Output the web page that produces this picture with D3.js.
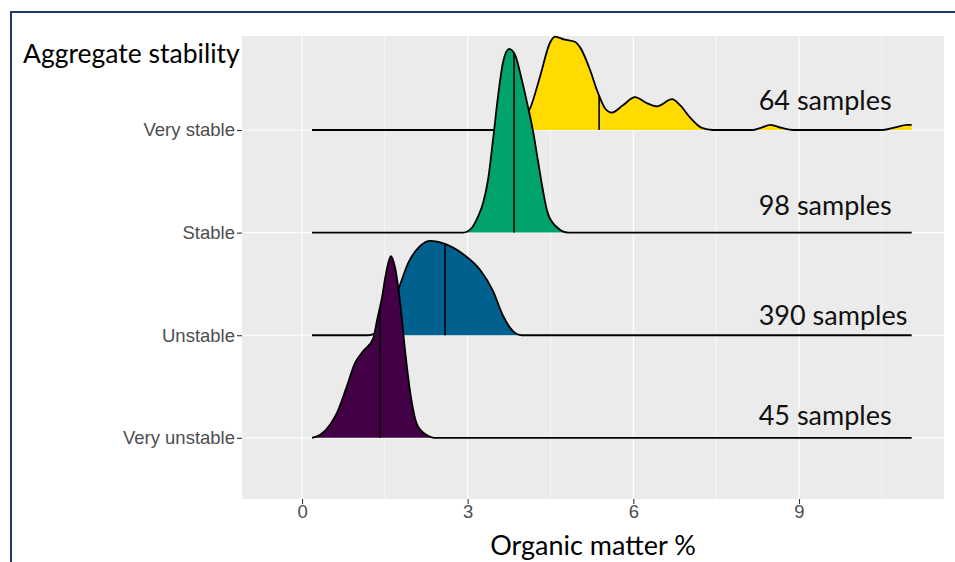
<!DOCTYPE html>
<html>
<head>
<meta charset="utf-8">
<script src="https://cdn.jsdelivr.net/npm/d3@7"></script>
<style>
    html, body { margin: 0; padding: 0; background: #fff; }
    svg { display: block; }
</style>
</head>
<body>
<svg></svg>
<script>
'use strict';

const WIDTH = 955;
const HEIGHT = 562;

// categories bottom -> top, same order as the colours / counts / medians
const CATEGORIES = ["Very unstable", "Unstable", "Stable", "Very stable"];
const COLOURS = ["#440046", "#00608E", "#00A36C", "#FFDB00"];
const SAMPLE_COUNTS = [45, 390, 98, 64];
const MEDIANS = [1.41, 2.59, 3.84, 5.38];
const LABEL_OFFSETS = [0.125, 0.10, 0.17, 0.195];
const LABEL_X = 8.27;
const X_TICKS = [0, 3, 6, 9];
const X_MINOR = [-1.5, 1.5, 4.5, 7.5, 10.5];

// density outlines: [organic matter %, height in row units]
const veryUnstableDensity = [
    [0.18, 0], [0.33, 0.03], [0.51, 0.13], [0.63, 0.24], [0.81, 0.50], [0.96, 0.73],
    [1.10, 0.84], [1.29, 0.97], [1.36, 1.15], [1.45, 1.37], [1.51, 1.57], [1.61, 1.77],
    [1.68, 1.67], [1.77, 1.35], [1.87, 0.83], [1.96, 0.44], [2.10, 0.11], [2.32, 0.01],
    [2.40, 0], [11.04, 0]
];
const unstableDensity = [
    [0.18, 0], [1.20, 0], [1.40, 0.06], [1.58, 0.22], [1.76, 0.47], [1.92, 0.70],
    [2.14, 0.87], [2.32, 0.92], [2.59, 0.89], [2.92, 0.79], [3.22, 0.64], [3.46, 0.43],
    [3.64, 0.19], [3.82, 0.04], [3.98, 0], [11.04, 0]
];
const stableDensity = [
    [0.18, 0], [2.92, 0], [3.08, 0.05], [3.19, 0.16], [3.28, 0.29], [3.37, 0.52],
    [3.46, 0.91], [3.55, 1.33], [3.64, 1.66], [3.75, 1.79], [3.86, 1.73], [3.98, 1.49],
    [4.09, 1.23], [4.18, 1.00], [4.27, 0.71], [4.36, 0.42], [4.45, 0.19], [4.62, 0.05],
    [4.82, 0], [11.04, 0]
];
const veryStableDensity = [
    [0.18, 0], [3.70, 0], [3.95, 0.08], [4.13, 0.21], [4.31, 0.52], [4.49, 0.85],
    [4.58, 0.91], [4.76, 0.88], [4.94, 0.86], [5.03, 0.81], [5.22, 0.58], [5.34, 0.39],
    [5.49, 0.21], [5.61, 0.17], [5.81, 0.24], [6.03, 0.32], [6.25, 0.26], [6.43, 0.23],
    [6.70, 0.30], [6.85, 0.24], [7.03, 0.12], [7.24, 0.02], [7.44, 0], [8.17, 0],
    [8.33, 0.025], [8.48, 0.05], [8.69, 0.02], [8.89, 0], [10.52, 0], [10.74, 0.025],
    [10.96, 0.05], [11.04, 0.05]
];
const DENSITIES = [veryUnstableDensity, unstableDensity, stableDensity, veryStableDensity];

var panel = {left: 242, right: 944, top: 36, bottom: 499};

var svg = d3.select("svg")
    .attr("width", WIDTH)
    .attr("height", HEIGHT);

var x = d3.scaleLinear()
    .domain([-1.087, 11.626])
    .range([panel.left, panel.right]);

// y in "row units": category i sits at i + 1
var y = d3.scaleLinear()
    .domain([0.404, 4.916])
    .range([panel.bottom, panel.top]);

// outer frame: only the top and left edges are inside the window
svg.append("line")
    .attr("x1", 10).attr("x2", WIDTH)
    .attr("y1", 12).attr("y2", 12)
    .attr("stroke", "#1F3864").attr("stroke-width", 2);
svg.append("line")
    .attr("x1", 11).attr("x2", 11)
    .attr("y1", 11).attr("y2", HEIGHT)
    .attr("stroke", "#1F3864").attr("stroke-width", 2);

svg.append("rect")
    .attr("x", panel.left)
    .attr("y", panel.top)
    .attr("width", panel.right - panel.left)
    .attr("height", panel.bottom - panel.top)
    .attr("fill", "#EBEBEB");

var grid = svg.append("g").attr("stroke", "#fff");

grid.selectAll(".minor")
    .data(X_MINOR.filter(function (d) { return x(d) > panel.left; }))
    .enter()
    .append("line")
    .attr("x1", function (d) { return x(d); })
    .attr("x2", function (d) { return x(d); })
    .attr("y1", panel.top)
    .attr("y2", panel.bottom)
    .attr("stroke-width", 0.6);

grid.selectAll(".major")
    .data(X_TICKS)
    .enter()
    .append("line")
    .attr("x1", function (d) { return x(d); })
    .attr("x2", function (d) { return x(d); })
    .attr("y1", panel.top)
    .attr("y2", panel.bottom)
    .attr("stroke-width", 1.2);

grid.selectAll(".row")
    .data(CATEGORIES)
    .enter()
    .append("line")
    .attr("x1", panel.left)
    .attr("x2", panel.right)
    .attr("y1", function (d, i) { return y(i + 1); })
    .attr("y2", function (d, i) { return y(i + 1); })
    .attr("stroke-width", 1.2);

var area = d3.area()
    .curve(d3.curveMonotoneX);
var line = d3.line()
    .curve(d3.curveMonotoneX);

// top row first so lower ridges overlap it
d3.range(CATEGORIES.length).reverse().forEach(function (i) {
    var base = i + 1;
    var pts = DENSITIES[i];
    var g = svg.append("g").attr("class", "ridge");

    g.append("path")
        .datum(pts)
        .attr("d", area
            .x(function (d) { return x(d[0]); })
            .y0(y(base))
            .y1(function (d) { return y(base + d[1]); }))
        .attr("fill", COLOURS[i]);

    var outline = g.append("path")
        .datum(pts)
        .attr("d", line
            .x(function (d) { return x(d[0]); })
            .y(function (d) { return y(base + d[1]); }))
        .attr("fill", "none")
        .attr("stroke", "#000")
        .attr("stroke-width", 1.8);

    // find the outline height at the median
    var node = outline.node();
    var total = node.getTotalLength();
    var mx = x(MEDIANS[i]);
    var best = null;
    for (var l = 0; l <= total; l += 0.5) {
        var p = node.getPointAtLength(l);
        if (!best || Math.abs(p.x - mx) < Math.abs(best.x - mx)) {
            best = p;
        }
    }
    g.append("line")
        .attr("x1", mx)
        .attr("x2", mx)
        .attr("y1", y(base))
        .attr("y2", best.y)
        .attr("stroke", "#000")
        .attr("stroke-width", 1.6);
});

svg.selectAll(".samples")
    .data(SAMPLE_COUNTS)
    .enter()
    .append("text")
    .attr("class", "samples")
    .attr("x", x(LABEL_X))
    .attr("y", function (d, i) { return y(i + 1 + LABEL_OFFSETS[i]); })
    .attr("font-family", "Lato, 'Open Sans', sans-serif")
    .attr("font-size", 27)
    .attr("fill", "#111")
    .text(function (d) { return d + " samples"; });

// axes
var xAxis = svg.append("g")
    .attr("transform", "translate(0," + panel.bottom + ")")
    .call(d3.axisBottom(x).tickValues(X_TICKS).tickSize(5).tickPadding(1));

var yAxis = svg.append("g")
    .attr("transform", "translate(" + panel.left + ",0)")
    .call(d3.axisLeft(d3.scalePoint()
        .domain(CATEGORIES)
        .range([y(1), y(CATEGORIES.length)]))
        .tickSize(5).tickPadding(2));

[xAxis, yAxis].forEach(function (ax) {
    ax.select(".domain").remove();
    ax.selectAll(".tick line").attr("stroke", "#333").attr("stroke-width", 1.1);
    ax.selectAll(".tick text")
        .attr("fill", "#4D4D4D")
        .attr("font-family", "'Liberation Sans', Arial, sans-serif")
        .attr("font-size", 18.5);
});

svg.append("text")
    .attr("x", 23)
    .attr("y", 63)
    .attr("font-family", "Lato, 'Open Sans', sans-serif")
    .attr("font-size", 26.5)
    .attr("fill", "#000")
    .text("Aggregate stability");

svg.append("text")
    .attr("x", (panel.left + panel.right) / 2)
    .attr("y", 555)
    .attr("text-anchor", "middle")
    .attr("font-family", "Lato, 'Open Sans', sans-serif")
    .attr("font-size", 27)
    .attr("fill", "#000")
    .text("Organic matter %");
</script>
</body>
</html>
